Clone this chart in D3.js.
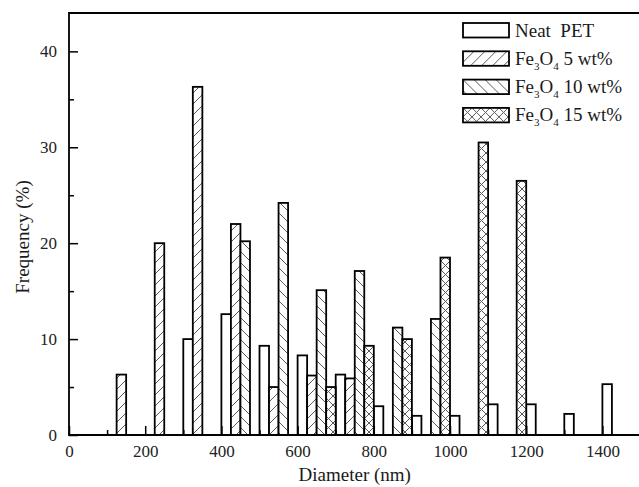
<!DOCTYPE html>
<html>
<head>
<meta charset="utf-8">
<script src="https://cdn.jsdelivr.net/npm/d3@7"></script>
<style>
  body { margin: 0; background: #fff; overflow: hidden; }
  svg { display: block; }
</style>
</head>
<body>
<div id="chart"></div>
<script>
// bins (nm): each group of 4 bars starts at the bin value
var bins = [100, 200, 300, 400, 500, 600, 700, 800, 900, 1000, 1100, 1200, 1300, 1400];
var seriesNames = ['Neat  PET', 'Fe3O4 5 wt%', 'Fe3O4 10 wt%', 'Fe3O4 15 wt%'];
var neatPET = [0, 0, 10.0, 12.6, 9.3, 8.3, 6.3, 3.0, 2.0, 2.0, 3.2, 3.2, 2.2, 5.3];
var fe5 = [6.3, 20.0, 36.3, 22.0, 5.0, 6.2, 5.9, 0, 0, 0, 0, 0, 0, 0];
var fe10 = [0, 0, 0, 20.2, 24.2, 15.1, 17.1, 11.2, 12.1, 0, 0, 0, 0, 0];
var fe15 = [0, 0, 0, 0, 0, 5.0, 9.3, 10.0, 18.5, 30.5, 26.5, 0, 0, 0];
var xTicks = [0, 200, 400, 600, 800, 1000, 1200, 1400];
var yTicks = [0, 10, 20, 30, 40];

var W = 639, H = 487;
var margin = {left: 69, top: 13, right: 640.5, bottom: 435};
var barWidth = 25;

var svg = d3.select('#chart').append('svg').attr('width', W).attr('height', H);
var defs = svg.append('defs');

var makeHatch = function(id, angles, size) {
  var p = defs.append('pattern').attr('id', id).attr('patternUnits', 'userSpaceOnUse')
    .attr('width', size).attr('height', size);
  p.append('rect').attr('width', size).attr('height', size).attr('fill', '#fff');
  angles.forEach(function(a) {
    if (a === 45) {
      p.append('path').attr('d', 'M0,' + size + ' L' + size + ',0 M-1,1 L1,-1 M' + (size - 1) + ',' + (size + 1) + ' L' + (size + 1) + ',' + (size - 1));
    } else {
      p.append('path').attr('d', 'M0,0 L' + size + ',' + size + ' M-1,' + (size - 1) + ' L1,' + (size + 1) + ' M' + (size - 1) + ',-1 L' + (size + 1) + ',1');
    }
  });
  p.selectAll('path').attr('stroke', '#5a5a5a').attr('stroke-width', 1).attr('fill', 'none');
};
makeHatch('h5', [45], 11);
makeHatch('h10', [-45], 11);
makeHatch('h15', [45, -45], 9);

var fills = ['#fff', 'url(#h5)', 'url(#h10)', 'url(#h15)'];
var allSeries = [neatPET, fe5, fe10, fe15];

var x = d3.scaleLinear().domain([0, 1500]).range([margin.left, margin.right]);
var y = d3.scaleLinear().domain([0, 44]).range([margin.bottom, margin.top]);

// bars
allSeries.forEach(function(values, s) {
  svg.append('g').selectAll('rect')
    .data(values.map(function(v, i) { return {x: bins[i] + s * barWidth, v: v}; }).filter(function(d) { return d.v > 0; }))
    .enter().append('rect')
    .attr('x', function(d) { return x(d.x); })
    .attr('y', function(d) { return y(d.v); })
    .attr('width', function(d) { return x(d.x + barWidth) - x(d.x); })
    .attr('height', function(d) { return y(0) - y(d.v); })
    .attr('fill', fills[s])
    .attr('stroke', '#000')
    .attr('stroke-width', 1.8);
});

// frame (right side falls outside the picture)
svg.append('path')
  .attr('d', 'M' + (W + 5) + ',' + margin.top + ' H' + margin.left + ' V' + margin.bottom + ' H' + (W + 5))
  .attr('fill', 'none').attr('stroke', '#000').attr('stroke-width', 1.8);

// axes (ticks inward)
var xAxis = d3.axisBottom(x).tickValues(xTicks).tickSize(-9).tickPadding(10).tickFormat(d3.format('d'));
var xMinor = d3.axisBottom(x).tickValues(d3.range(100, 1500, 200)).tickSize(-5).tickFormat('');
var yAxis = d3.axisLeft(y).tickValues(yTicks).tickSize(-9).tickPadding(12);
var yMinor = d3.axisLeft(y).tickValues([5, 15, 25, 35]).tickSize(-5).tickFormat('');

[xAxis, xMinor].forEach(function(a) {
  svg.append('g').attr('class', 'axis').attr('transform', 'translate(0,' + margin.bottom + ')').call(a);
});
[yAxis, yMinor].forEach(function(a) {
  svg.append('g').attr('class', 'axis').attr('transform', 'translate(' + margin.left + ',0)').call(a);
});
svg.selectAll('.axis .domain').remove();
svg.selectAll('.axis line').attr('stroke', '#000').attr('stroke-width', 1.5);
svg.selectAll('.axis text').attr('font-family', 'Liberation Serif, Times New Roman, serif')
  .attr('font-size', 17).attr('fill', '#222');

// axis titles
svg.append('text').attr('x', (margin.left + margin.right) / 2).attr('y', 481)
  .attr('text-anchor', 'middle').attr('font-family', 'Liberation Serif, serif')
  .attr('font-size', 19).attr('fill', '#1a1a1a').text('Diameter (nm)');
svg.append('text').attr('transform', 'translate(29,237) rotate(-90)')
  .attr('text-anchor', 'middle').attr('font-family', 'Liberation Serif, serif')
  .attr('font-size', 19).attr('fill', '#1a1a1a').text('Frequency (%)');

// legend
var legend = svg.append('g').attr('transform', 'translate(463,23)');
seriesNames.forEach(function(name, i) {
  var g = legend.append('g').attr('transform', 'translate(0,' + (i * 28.3) + ')');
  g.append('rect').attr('width', 46).attr('height', 14.5).attr('fill', fills[i])
    .attr('stroke', '#000').attr('stroke-width', 1.8);
  var t = g.append('text').attr('x', 52).attr('y', 13.5).attr('font-family', 'Liberation Serif, serif')
    .attr('font-size', 19).attr('fill', '#1a1a1a').style('white-space', 'pre');
  if (i === 0) {
    t.text(name);
  } else {
    var rest = name.replace('Fe3O4', '');
    t.append('tspan').text('Fe');
    t.append('tspan').attr('font-size', 11).attr('dy', 5).text('3');
    t.append('tspan').attr('dy', -5).text('O');
    t.append('tspan').attr('font-size', 11).attr('dy', 5).text('4');
    t.append('tspan').attr('dy', -5).text(rest);
  }
});
</script>
</body>
</html>
